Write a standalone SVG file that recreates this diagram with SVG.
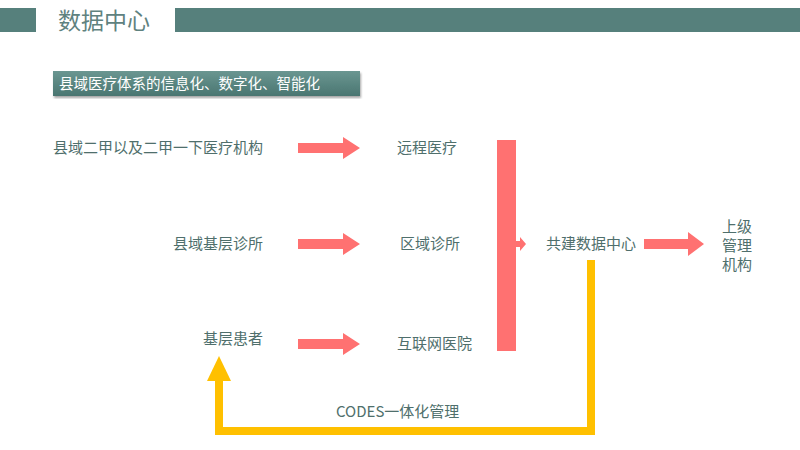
<svg xmlns="http://www.w3.org/2000/svg" width="800" height="450" viewBox="0 0 800 450">
<style>
text{font-family:"Noto Sans CJK SC","Liberation Sans",sans-serif;fill:#4f6f6c;font-size:15px}
.red{fill:#ff7171}
.yl{fill:none;stroke:#ffc000;stroke-width:8}
</style>
<defs>
<linearGradient id="g" x1="0" y1="0" x2="0" y2="1"><stop offset="0" stop-color="#6a9691"/><stop offset="1" stop-color="#4a7671"/></linearGradient>
<filter id="sh"><feDropShadow dx="1" dy="2" stdDeviation="1" flood-opacity="0.35"/></filter>
<path id="arr" d="M0,-5 H45 V-11 L62,0 L45,11 V5 H0 Z"/>
</defs>
<g id="header">
<rect x="0" y="8" width="36" height="24" fill="#56807c"/>
<rect x="175" y="8" width="625" height="24" fill="#56807c"/>
<text x="58" y="29" style="font-size:23px;fill:#5f827f">数据中心</text>
</g>
<g id="subtitle">
<rect x="53" y="71" width="307" height="25" fill="url(#g)" filter="url(#sh)"/>
<text x="59" y="89" style="fill:#fff;font-size:14.5px">县域医疗体系的信息化、数字化、智能化</text>
</g>
<g id="n1"><text x="53" y="153">县域二甲以及二甲一下医疗机构</text></g>
<g id="n2"><text x="173" y="249">县域基层诊所</text></g>
<g id="n3"><text x="203" y="344">基层患者</text></g>
<g id="n4"><text x="397" y="153">远程医疗</text></g>
<g id="n5"><text x="400" y="249">区域诊所</text></g>
<g id="n6"><text x="397" y="349">互联网医院</text></g>
<g id="n7"><text x="546" y="249">共建数据中心</text></g>
<g id="n8"><text x="722" y="232">上级</text><text x="722" y="251">管理</text><text x="722" y="270">机构</text></g>
<g id="connectors">
<use href="#arr" class="red" transform="translate(298,148)"/>
<use href="#arr" class="red" transform="translate(298,244)"/>
<use href="#arr" class="red" transform="translate(298,344)"/>
<rect x="497" y="140" width="19" height="211" class="red"/>
<path d="M516,241 H520 V237 L526,244 L520,251 V247 H516 Z" class="red"/>
<path d="M644,239 H688 V232 L704,244 L688,256 V249 H644 Z" class="red"/>
<path d="M591,260 V431 H219 V380" class="yl"/>
<path d="M207,381 L219,356 L231,381 Z" fill="#ffc000"/>
<text x="336" y="417">CODES一体化管理</text>
</g>
</svg>
